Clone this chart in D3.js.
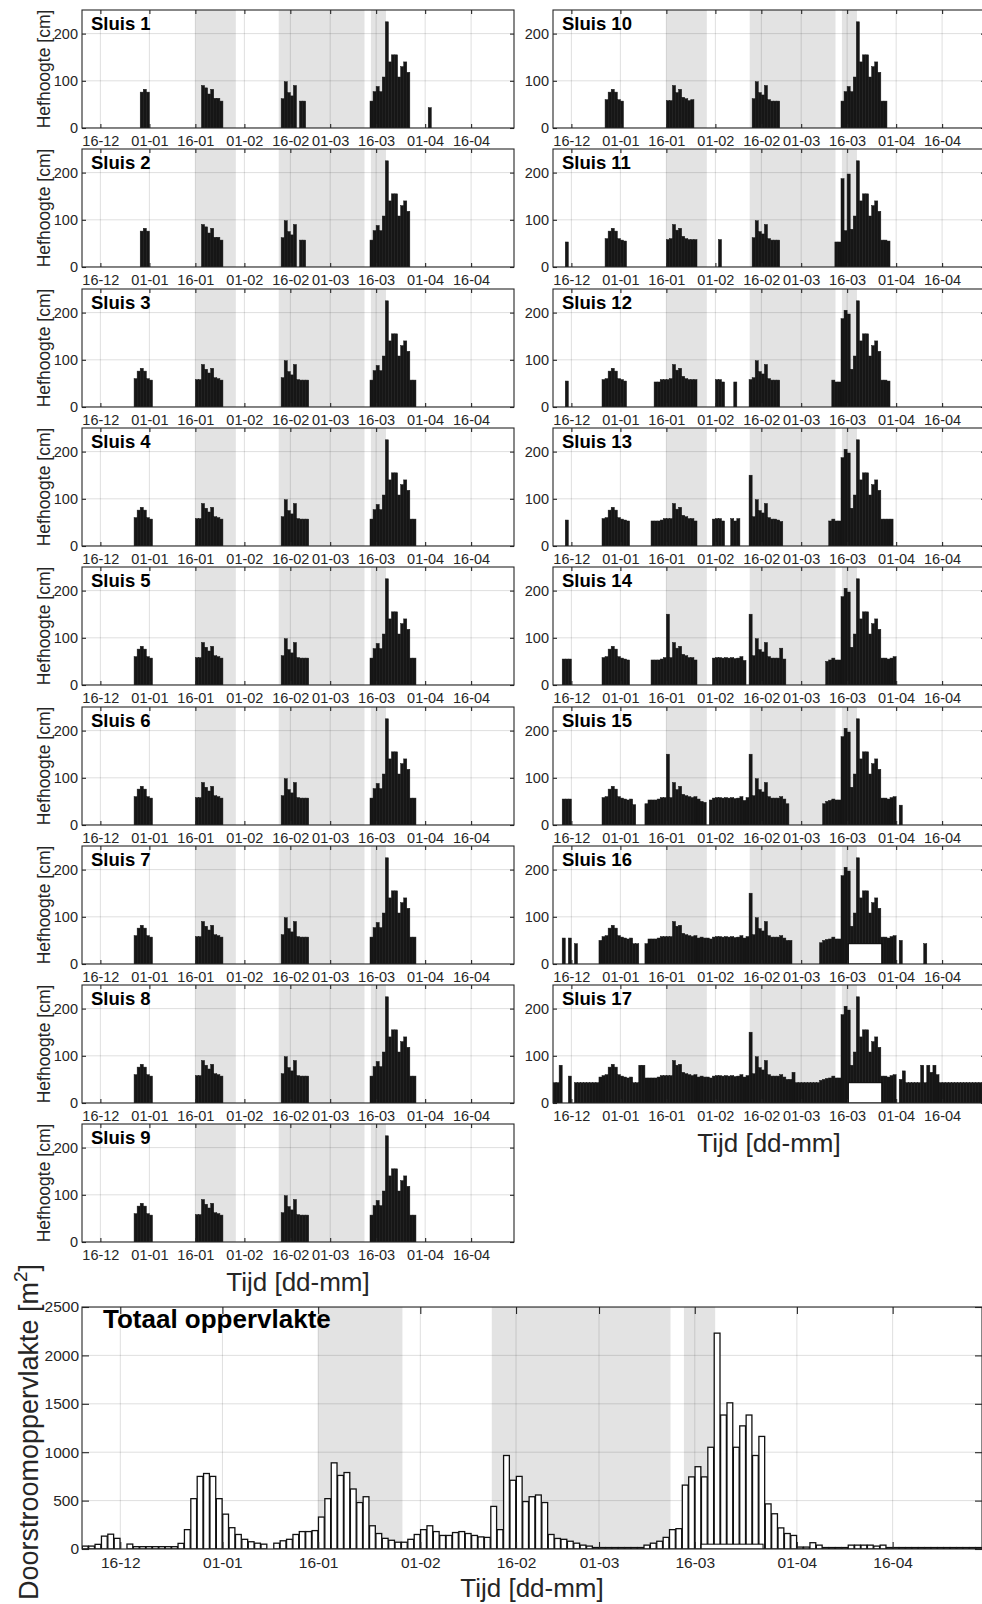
<!DOCTYPE html>
<html>
<head>
<meta charset="utf-8">
<title>Hefhoogte sluizen</title>
<script src="https://cdn.jsdelivr.net/npm/d3@7/dist/d3.min.js"></script>
<style>
  body { margin: 0; background: #fff; }
  svg { display: block; }
  text { font-family: "Liberation Sans", Arial, Helvetica, sans-serif; }
</style>
</head>
<body>
<svg id="chart" width="982" height="1604"></svg>
<script>
// ---- data ---------------------------------------------------------------
// each series is a list of runs: [first day, [one value per day ...]]
// day 0 = 10-12, sluices in cm, the total in m2
var firstDay = Date.UTC(2014, 11, 10);
var lastDay = Date.UTC(2015, 3, 30);

var tickDays = [[2014, 11, 16], [2015, 0, 1], [2015, 0, 16], [2015, 1, 1], [2015, 1, 16],
                [2015, 2, 1], [2015, 2, 16], [2015, 3, 1], [2015, 3, 16]];
var hefTicks = [0, 100, 200];
var totaalTicks = [0, 500, 1000, 1500, 2000, 2500];

// grey periods (days from 10-12)
var periodes = [[37, 50.2], [64.2, 92.2], [94.3, 99.2]];

var sluisNames = ["Sluis 1", "Sluis 2", "Sluis 3", "Sluis 4", "Sluis 5", "Sluis 6", "Sluis 7", "Sluis 8", "Sluis 9",
                  "Sluis 10", "Sluis 11", "Sluis 12", "Sluis 13", "Sluis 14", "Sluis 15", "Sluis 16", "Sluis 17"];

var sluis1 = [[19, [76, 82, 76]], [39, [90, 85, 72, 82, 63, 63, 57]], [65, [62, 98, 75, 68, 90]], [71, [57, 57]],
              [94, [57, 77, 88, 77, 108, 225, 140, 155, 155, 108, 130, 140, 118]], [113, [43]]];
var sluis2 = [[19, [76, 82, 76]], [39, [90, 85, 72, 82, 63, 63, 57]], [65, [62, 98, 75, 68, 90]], [71, [57, 57]],
              [94, [57, 77, 88, 77, 108, 225, 140, 155, 155, 108, 130, 140, 118]]];
var sluis3 = [[17, [60, 76, 82, 76, 60, 57]], [37, [58, 58, 90, 80, 72, 82, 62, 60, 57]], [65, [62, 98, 75, 68, 90, 58, 57, 57, 57]],
              [94, [57, 77, 88, 77, 108, 225, 140, 155, 155, 108, 130, 140, 118, 57, 57]]];
var sluis4 = [[17, [60, 76, 82, 76, 60, 57]], [37, [58, 58, 90, 80, 72, 82, 62, 60, 57]], [65, [62, 98, 75, 68, 90, 58, 57, 57, 57]],
              [94, [57, 77, 88, 77, 108, 225, 140, 155, 155, 108, 130, 140, 118, 57, 57]]];
var sluis5 = [[17, [60, 76, 82, 76, 60, 57]], [37, [58, 58, 90, 80, 72, 82, 62, 60, 57]], [65, [62, 98, 75, 68, 90, 58, 57, 57, 57]],
              [94, [57, 77, 88, 77, 108, 225, 140, 155, 155, 108, 130, 140, 118, 57, 57]]];
var sluis6 = [[17, [60, 76, 82, 76, 60, 57]], [37, [58, 58, 90, 80, 72, 82, 62, 60, 57]], [65, [62, 98, 75, 68, 90, 58, 57, 57, 57]],
              [94, [57, 77, 88, 77, 108, 225, 140, 155, 155, 108, 130, 140, 118, 57, 57]]];
var sluis7 = [[17, [60, 76, 82, 76, 60, 57]], [37, [58, 58, 90, 80, 72, 82, 62, 60, 57]], [65, [62, 98, 75, 68, 90, 58, 57, 57, 57]],
              [94, [57, 77, 88, 77, 108, 225, 140, 155, 155, 108, 130, 140, 118, 57, 57]]];
var sluis8 = [[17, [60, 76, 82, 76, 60, 57]], [37, [58, 58, 90, 80, 72, 82, 62, 60, 57]], [65, [62, 98, 75, 68, 90, 58, 57, 57, 57]],
              [94, [57, 77, 88, 77, 108, 225, 140, 155, 155, 108, 130, 140, 118, 57, 57]]];
var sluis9 = [[17, [60, 76, 82, 76, 60, 57]], [37, [58, 58, 90, 80, 72, 82, 62, 60, 57]], [65, [62, 98, 75, 68, 90, 58, 57, 57, 57]],
              [94, [57, 77, 88, 77, 108, 225, 140, 155, 155, 108, 130, 140, 118, 57, 57]]];
var sluis10 = [[17, [60, 76, 82, 76, 60, 57]], [37, [58, 58, 90, 75, 82, 65, 62, 58, 60]], [65, [62, 98, 75, 70, 90, 60, 57, 57, 57]],
               [94, [57, 77, 88, 77, 108, 225, 140, 155, 155, 108, 130, 140, 118, 57, 57]]];
var sluis11 = [[4, [53]], [17, [60, 76, 82, 76, 60, 57, 55]], [37, [58, 60, 90, 78, 82, 65, 60, 58, 58, 58]], [54, [58]],
               [65, [62, 98, 75, 70, 90, 60, 57, 57, 57]],
               [92, [53, 53, 187, 77, 197, 80, 108, 225, 140, 155, 155, 108, 130, 140, 118, 57, 57, 55]]];
var sluis12 = [[4, [55]], [16, [58, 60, 76, 82, 76, 60, 58, 55]], [33, [53, 53, 58, 58, 58, 60, 90, 78, 82, 65, 60, 58, 58, 58]],
               [53, [58, 58, 53]], [59, [53]], [64, [58, 62, 98, 75, 70, 90, 60, 57, 57, 57]],
               [91, [57, 53, 53, 187, 205, 197, 80, 108, 225, 140, 155, 155, 108, 130, 140, 118, 57, 57, 55]]];
var sluis13 = [[4, [55]], [16, [58, 60, 76, 82, 76, 60, 57, 55, 53]],
               [32, [53, 53, 53, 55, 58, 58, 58, 90, 78, 82, 65, 62, 58, 58, 53]],
               [52, [57, 58, 58, 53]], [58, [58, 53, 58]], [64, [150, 62, 98, 75, 70, 90, 60, 57, 57, 55, 52]],
               [90, [53, 57, 53, 53, 187, 205, 197, 80, 108, 225, 140, 155, 155, 108, 130, 140, 118, 57, 57, 57, 57]]];
var sluis14 = [[3, [55, 55, 55]], [16, [58, 60, 76, 82, 76, 60, 57, 55, 53]],
               [32, [53, 53, 53, 55, 58, 150, 58, 90, 78, 82, 65, 62, 58, 58, 53]],
               [52, [57, 58, 58, 57, 58, 57, 58, 56, 57, 60, 52]], [64, [150, 62, 98, 75, 70, 90, 60, 57, 57, 57, 78, 55]],
               [89, [50, 53, 57, 53, 53, 187, 205, 197, 80, 108, 225, 140, 155, 155, 108, 130, 140, 118, 57, 57, 55, 57, 60]]];
var sluis15 = [[3, [55, 55, 55]], [16, [58, 60, 76, 82, 76, 60, 57, 55, 53, 55, 43]],
               [30, [45, 53, 53, 53, 55, 58, 58, 150, 58, 90, 75, 82, 65, 62, 60, 58, 60, 55, 50, 48]],
               [51, [53, 57, 58, 58, 57, 58, 57, 58, 56, 57, 60, 52]], [63, [58, 150, 62, 98, 75, 70, 90, 60, 57, 57, 57, 60, 55, 45]],
               [88, [45, 50, 52, 55, 53, 53, 187, 205, 197, 80, 108, 225, 140, 155, 155, 108, 130, 140, 118, 57, 57, 55, 58, 60]],
               [113, [42]]];
var sluis16 = [[3, [55]], [5, [55]], [7, [43]], [15, [50, 58, 60, 76, 82, 76, 60, 57, 55, 53, 55, 43, 43]],
               [30, [43, 53, 53, 53, 55, 58, 58, 58, 58, 90, 80, 82, 65, 62, 60, 58, 60, 55, 57, 55]],
               [50, [55, 53, 57, 58, 58, 57, 58, 57, 58, 56, 57, 60, 55, 58]],
               [64, [150, 62, 98, 75, 70, 90, 60, 57, 57, 57, 60, 55, 50, 50]],
               [87, [45, 50, 52, 53, 57, 53, 53, 187, 205, 197, 80, 108, 225, 140, 155, 155, 108, 130, 140, 118, 57, 57, 55, 58, 60]],
               [113, [50]], [121, [43]]];
var sluis17 = [[0, [43, 43, 80]], [5, [57]], [7, [43, 43, 43, 43, 43, 43, 43, 43]],
               [15, [55, 58, 60, 76, 82, 76, 60, 57, 55, 53, 55, 43, 43, 80, 80]],
               [30, [53, 53, 53, 53, 55, 58, 58, 58, 58, 90, 80, 82, 65, 62, 60, 58, 60, 55, 57, 55]],
               [50, [55, 53, 57, 58, 58, 57, 58, 57, 58, 56, 57, 60, 55, 58]],
               [64, [150, 62, 98, 75, 70, 90, 60, 57, 57, 57, 60, 55, 50, 50, 65]],
               [79, [43, 43, 43, 43, 43, 43, 43, 43, 48, 50, 52, 53, 57, 53, 53]],
               [94, [187, 205, 197, 80, 108, 225, 140, 155, 155, 108, 130, 140, 118, 57, 57, 55, 58, 60]],
               [113, [50, 68, 43, 43, 43, 43, 43, 80, 43, 80, 65, 80, 60]],
               [126, [43, 43, 43, 43, 43, 43, 43, 43, 43, 43, 43, 43, 43, 43, 43]]];

var totaal = [[0, [30, 30, 48, 133, 153, 110]], [7, [51, 24, 24, 24, 24, 24, 24, 24]],
              [15, [58, 200, 520, 750, 780, 750, 520, 360, 220, 150]], [25, [100, 75, 60, 50]],
              [30, [60, 85, 100, 150, 180, 180, 190, 330, 520, 890]],
              [40, [760, 790, 620, 480, 540, 240, 160, 110, 90, 70]],
              [50, [70, 100, 150, 200, 240, 180, 140, 140, 170, 180]],
              [60, [160, 140, 125, 120, 440, 200, 966, 710, 750, 490]],
              [70, [540, 558, 480, 150, 109, 100, 80, 60, 40, 30]],
              [80, [15, 15, 15, 15, 15, 15, 15, 15, 40, 60]],
              [90, [80, 120, 200, 210, 660, 745, 850, 745, 1051, 2230]],
              [100, [1384, 1510, 1051, 1272, 1384, 966, 1163, 466, 364, 218]],
              [110, [160, 140, 20, 20, 65, 40, 15, 15, 15, 15]],
              [120, [40, 40, 40, 40, 30, 40, 15, 15, 15, 15]],
              [130, [15, 15, 15, 15, 15, 15, 15, 15, 15, 15, 15]]];

// white bar lying over the others: [from day, to day, value]
var witBlok16 = [96.4, 107.3, 43];
var witBlok17 = [96.4, 107.3, 43];
var witBlokTotaal = [97, 106.7, 50];

// ---- drawing -------------------------------------------------------------
var svg = d3.select("#chart");
var DAY = 864e5;
var fmt = d3.utcFormat("%d-%m");
var tickDates = tickDays.map(function (t) { return new Date(Date.UTC(t[0], t[1], t[2])); });
var ink = "#262626";

function dateOf(d) { return new Date(firstDay + d * DAY); }

function expand(runs) {
    var out = [];
    runs.forEach(function (r) {
        r[1].forEach(function (v, k) {
            if (v > 0) out.push({ d: r[0] + k, v: v });
        });
    });
    return out;
}

var nPanel = 0;
function drawPanel(o) {
    var id = "clip" + (nPanel++);
    var x = d3.scaleUtc().domain([new Date(firstDay), new Date(lastDay)]).range([0, o.w]);
    var y = d3.scaleLinear().domain([0, o.ymax]).range([o.h, 0]);
    var g = svg.append("g").attr("transform", "translate(" + o.x + "," + o.y + ")");

    g.append("clipPath").attr("id", id).append("rect").attr("width", o.w).attr("height", o.h);
    var plot = g.append("g").attr("clip-path", "url(#" + id + ")");

    plot.selectAll(".shade").data(periodes).enter().append("rect")
        .attr("class", "shade")
        .attr("x", function (p) { return x(dateOf(p[0])); })
        .attr("width", function (p) { return x(dateOf(p[1])) - x(dateOf(p[0])); })
        .attr("y", 0).attr("height", o.h)
        .attr("fill", "#e3e3e3");

    plot.selectAll(".gx").data(tickDates).enter().append("line")
        .attr("class", "gx")
        .attr("x1", function (d) { return x(d); }).attr("x2", function (d) { return x(d); })
        .attr("y1", 0).attr("y2", o.h)
        .attr("stroke", ink).attr("stroke-opacity", 0.15);
    plot.selectAll(".gy").data(o.yticks).enter().append("line")
        .attr("class", "gy")
        .attr("x1", 0).attr("x2", o.w)
        .attr("y1", function (d) { return y(d); }).attr("y2", function (d) { return y(d); })
        .attr("stroke", ink).attr("stroke-opacity", 0.15);

    plot.selectAll(".bar").data(expand(o.runs)).enter().append("rect")
        .attr("class", "bar")
        .attr("x", function (b) { return x(dateOf(b.d)) + o.inset; })
        .attr("width", function (b) { return x(dateOf(b.d + 1)) - x(dateOf(b.d)) - 2 * o.inset; })
        .attr("y", function (b) { return y(b.v); })
        .attr("height", function (b) { return y(0) - y(b.v); })
        .attr("fill", o.fill).attr("stroke", o.stroke).attr("stroke-width", o.sw);

    if (o.blok) {
        plot.append("rect")
            .attr("x", x(dateOf(o.blok[0])))
            .attr("width", x(dateOf(o.blok[1])) - x(dateOf(o.blok[0])))
            .attr("y", y(o.blok[2])).attr("height", y(0) - y(o.blok[2]))
            .attr("fill", "#fff").attr("stroke", "#000").attr("stroke-width", 1);
    }

    // axes, ticks pointing inward on all four sides
    var bottom = g.append("g").attr("transform", "translate(0," + o.h + ")")
        .call(d3.axisBottom(x).tickValues(tickDates).tickFormat(fmt)
            .tickSize(-o.tick).tickSizeOuter(0).tickPadding(o.xpad));
    var top = g.append("g")
        .call(d3.axisTop(x).tickValues(tickDates).tickFormat("").tickSize(-o.tick).tickSizeOuter(0));
    var left = g.append("g")
        .call(d3.axisLeft(y).tickValues(o.yticks).tickFormat(d3.format("d"))
            .tickSize(-o.tick).tickSizeOuter(0).tickPadding(o.ypad));
    var right = g.append("g").attr("transform", "translate(" + o.w + ",0)")
        .call(d3.axisRight(y).tickValues(o.yticks).tickFormat("").tickSize(-o.tick).tickSizeOuter(0));
    [bottom, top, left, right].forEach(function (a) {
        a.select(".domain").remove();
        a.attr("color", ink).attr("font-size", o.font);
        a.selectAll("line").attr("stroke-width", 1.1);
    });

    g.append("rect").attr("width", o.w).attr("height", o.h)
        .attr("fill", "none").attr("stroke", ink).attr("stroke-width", 1.1);

    g.append("text").attr("x", o.tx).attr("y", o.ty)
        .attr("font-size", o.tsize).attr("font-weight", "bold").attr("fill", "#000")
        .text(o.title);
}

var sluisData = [sluis1, sluis2, sluis3, sluis4, sluis5, sluis6, sluis7, sluis8, sluis9,
                 sluis10, sluis11, sluis12, sluis13, sluis14, sluis15, sluis16, sluis17];
var blokken = { 15: witBlok16, 16: witBlok17 };

var colX = [82, 553], smallW = 432, smallH = 118, rowTop = 10, rowStep = 139.3;

sluisData.forEach(function (runs, i) {
    var col = i < 9 ? 0 : 1;
    var row = i < 9 ? i : i - 9;
    var top = Math.round(rowTop + row * rowStep);
    drawPanel({
        x: colX[col], y: top, w: smallW, h: smallH, ymax: 250, yticks: hefTicks,
        runs: runs, blok: blokken[i], title: sluisNames[i],
        fill: "#161616", stroke: "#161616", sw: 0.5, inset: 0,
        tick: 4, font: 14.5, xpad: 7.7, ypad: 4,
        tx: 9, ty: 20, tsize: 18.5
    });
    if (col === 0) {
        svg.append("text")
            .attr("transform", "translate(49.5," + (top + smallH / 2) + ") rotate(-90)")
            .attr("text-anchor", "middle").attr("font-size", 17.5).attr("fill", ink)
            .text("Hefhoogte [cm]");
    }
});

// x labels below the two columns
svg.append("text").attr("x", colX[0] + smallW / 2).attr("y", Math.round(rowTop + 8 * rowStep) + smallH + 49)
    .attr("text-anchor", "middle").attr("font-size", 26).attr("fill", ink).text("Tijd [dd-mm]");
svg.append("text").attr("x", colX[1] + smallW / 2).attr("y", Math.round(rowTop + 7 * rowStep) + smallH + 49)
    .attr("text-anchor", "middle").attr("font-size", 26).attr("fill", ink).text("Tijd [dd-mm]");

// total area panel
drawPanel({
    x: 82, y: 1307, w: 900, h: 242, ymax: 2500, yticks: totaalTicks,
    runs: totaal, blok: witBlokTotaal, title: "Totaal oppervlakte",
    fill: "#fff", stroke: "#111", sw: 1.3, inset: 0.3,
    tick: 7, font: 15.5, xpad: 8.3, ypad: 3,
    tx: 21, ty: 21, tsize: 26
});
svg.append("text").attr("x", 82 + 450).attr("y", 1597)
    .attr("text-anchor", "middle").attr("font-size", 26).attr("fill", ink).text("Tijd [dd-mm]");

var ylab = svg.append("text")
    .attr("transform", "translate(37.5,1432) rotate(-90)")
    .attr("text-anchor", "middle").attr("font-size", 27).attr("fill", ink);
ylab.append("tspan").text("Doorstroomoppervlakte [m");
ylab.append("tspan").attr("dy", -11).attr("font-size", 19).text("2");
ylab.append("tspan").attr("dy", 11).text("]");
</script>
</body>
</html>
